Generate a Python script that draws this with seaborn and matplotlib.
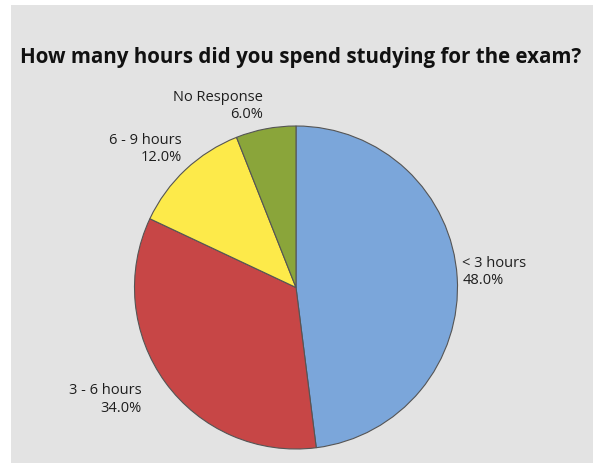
import matplotlib
matplotlib.use("Agg")
import matplotlib.pyplot as plt
from matplotlib.patches import Rectangle
import numpy as np
import seaborn as sns

# Survey responses
categories = ["< 3 hours", "3 - 6 hours", "6 - 9 hours", "No Response"]
percents = [48.0, 34.0, 12.0, 6.0]
colors = ["#7BA6DA", "#C74646", "#FDEA4A", "#8AA53A"]
title = "How many hours did you spend studying for the exam?"

# label placement relative to the wedge rim (pixels right, pixels up)
label_offsets = [(5, 5), (-24, -17), (-4, 21), (-3, 23)]

sns.set_theme(style="white")
plt.rcParams["font.family"] = ["Open Sans", "DejaVu Sans"]

W, H = 593, 463
fig = plt.figure(figsize=(W / 100, H / 100), dpi=100, facecolor="white")

# grey panel behind the chart
fig.patches.append(Rectangle((11 / W, 0), 1 - 11 / W, (H - 5) / H,
                             transform=fig.transFigure, facecolor="#E3E3E3",
                             edgecolor="none", zorder=-1))

cx, cy, r = 296, H - 287.5, 161.5
ax = fig.add_axes([(cx - r) / W, (cy - r) / H, 2 * r / W, 2 * r / H])
ax.set_facecolor("none")
ax.set_zorder(1)

wedges, _ = ax.pie(percents, colors=colors, startangle=90, counterclock=False,
                   wedgeprops=dict(edgecolor="#555555", linewidth=0.8))
ax.set_xlim(-1, 1)
ax.set_ylim(-1, 1)
ax.set_aspect("equal")
ax.axis("off")

for w, name, pct, (dx, dy) in zip(wedges, categories, percents, label_offsets):
    ang = np.deg2rad((w.theta1 + w.theta2) / 2)
    x, y = np.cos(ang), np.sin(ang)
    ha = "left" if x > 0 else "right"
    ax.annotate(f"{name}\n{pct:.1f}%", xy=(x, y),
                xytext=(dx * 0.72, dy * 0.72), textcoords="offset points",
                ha=ha, va="center", multialignment=ha, fontsize=10.5,
                color="#1E1E1E", linespacing=1.2, annotation_clip=False)

fig.text(301 / W, 1 - 58 / H, title, ha="center", va="center",
         fontsize=14.8, fontweight="bold", color="#111111")

fig.savefig("out.png", dpi=100, facecolor=fig.get_facecolor())
